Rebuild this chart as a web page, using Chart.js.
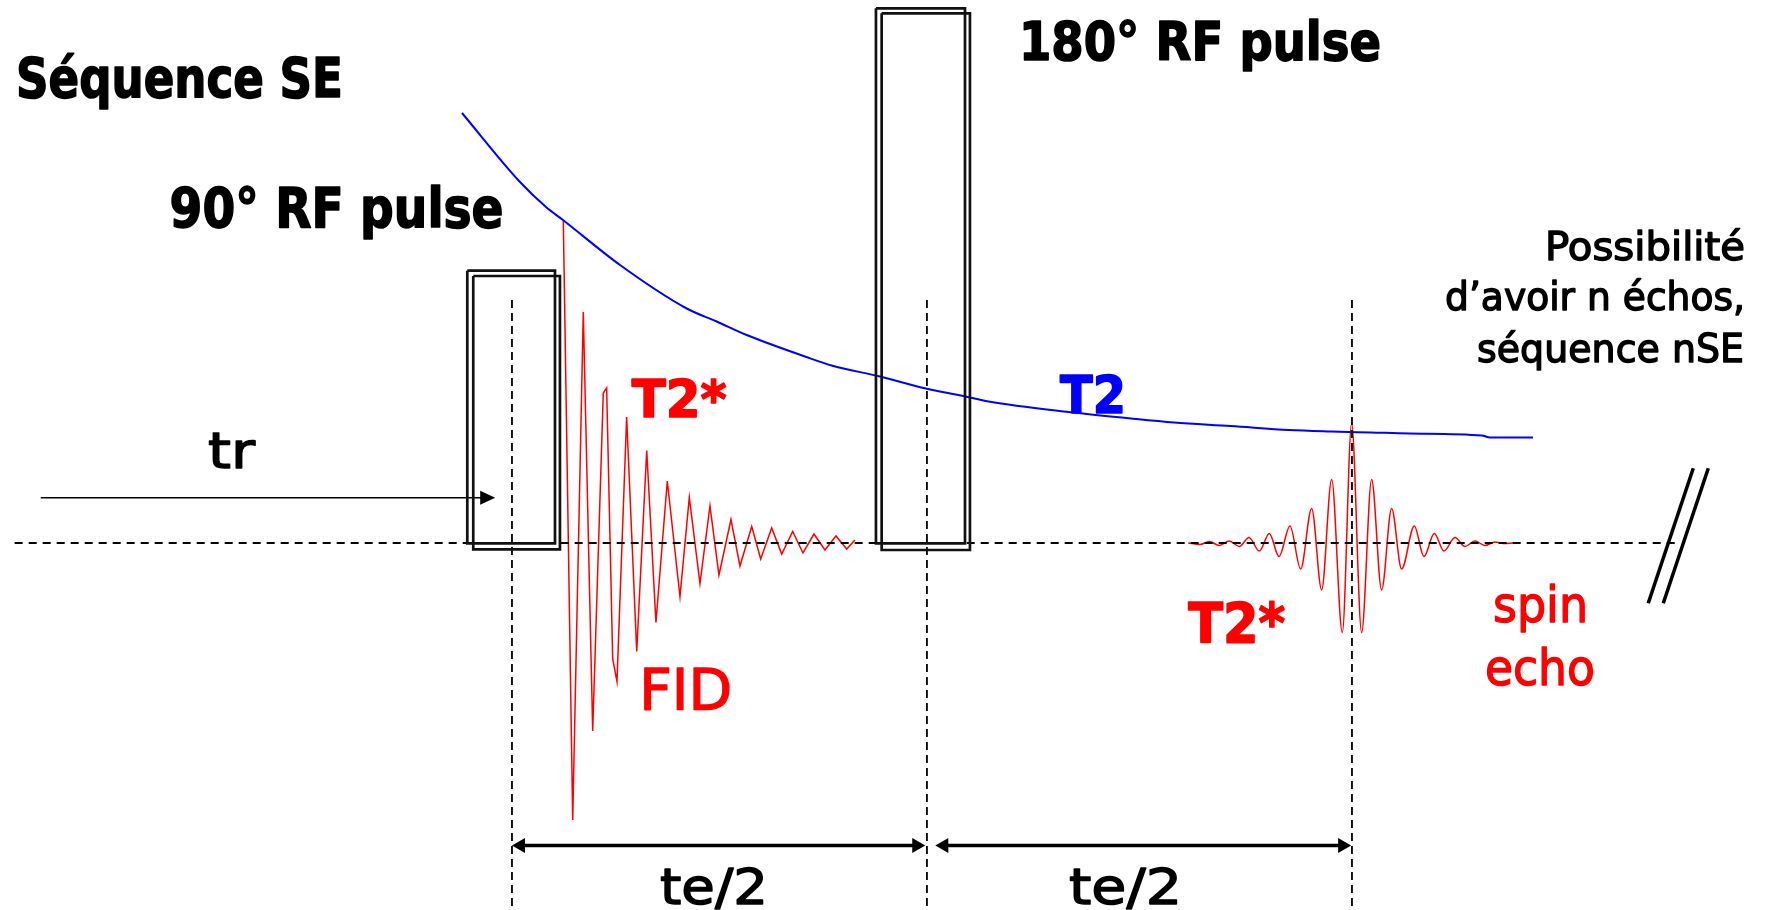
<!DOCTYPE html>
<html lang="fr">
<head>
<meta charset="utf-8">
<title>Séquence SE</title>
<script src="https://cdn.jsdelivr.net/npm/chart.js@4.4.0/dist/chart.umd.min.js"></script>
<style>
    html, body { margin: 0; padding: 0; background: #fff; }
    #seqChart { display: block; }
</style>
</head>
<body>
<canvas id="seqChart" width="1765" height="910"></canvas>
<script>
// ========================================
// DATA  (time in ms, 90° pulse centre = 0 ; amplitude in arbitrary units)
// ========================================

// FID after the 90° pulse: peaks and troughs
const fidTime = [6.11, 7.23, 8.49, 9.61, 10.87, 11.27, 11.99, 12.50, 13.65, 14.85,
    16.04, 17.14, 18.49, 20.00, 21.11, 22.38, 23.57, 24.64, 26.07, 27.14,
    28.54, 29.61, 30.92, 32.11, 33.42, 34.64, 35.95, 37.26, 38.57, 39.85, 40.83];
const fidAmp = [64.6, -55.4, 46.2, -37.6, 30.0, 31.0, -23.2, -27.7, 25.2, -21.7,
    18.5, -15.9, 12.4, -10.7, 9.1, -8.1, 7.4, -6.4, 4.7, -4.6,
    3.3, -3.2, 3.0, -2.2, 2.3, -2.0, 1.8, -1.4, 1.4, -1.2, 0.6];

// spin echo centred on te
const echoTime = [80.52, 81.90, 83.02, 84.21, 85.40, 86.59, 87.74, 88.97, 90.16, 91.31,
    92.62, 93.89, 95.20, 96.39, 97.58, 98.85, 99.96, 101.15, 102.34, 103.53,
    104.72, 105.91, 107.42, 108.57, 109.80, 110.95, 112.26, 113.45, 114.64, 115.83,
    117.02, 118.02, 119.21];
const echoAmp = [0, -0.3, 0.3, -0.5, 0.4, -0.7, 1.1, -1.6, 1.9, -2.7,
    3.4, -5.2, 6.9, -9.4, 12.7, -17.9, 23.9, -17.9, 12.7, -9.4,
    6.9, -5.2, 3.4, -2.7, 1.9, -1.6, 1.1, -0.7, 0.4, -0.5,
    0.2, -0.1, 0];

// T2 envelope
const t2Time = [-5.95, 0.90, 4.05, 6.07, 12.86, 20.80, 24.37, 27.94, 34.88, 38.06,
    43.81, 49.29, 53.76, 56.74, 66.90, 73.69, 78.81, 85.60, 92.50, 97.50,
    102.26, 106.90, 115.48, 116.43, 121.55];
const t2Amp = [86.0, 72.3, 67.2, 64.6, 55.6, 46.9, 44.3, 41.6, 37.3, 35.5,
    33.3, 30.9, 29.4, 28.3, 26.1, 24.9, 24.1, 23.4, 22.6, 22.3,
    22.1, 21.9, 21.5, 21.1, 21.1];

// RF pulses (each one drawn as two offset boxes)
const pulse90Start = [-5.32, -4.61];
const pulse90End = [5.12, 5.71];
const pulse90Top = [54.46, 53.4];
const pulse90Bottom = [-0.06, -1.26];
const pulse180Start = [43.33, 44.01];
const pulse180End = [53.93, 54.52];
const pulse180Top = [106.94, 105.94];
const pulse180Bottom = [-0.06, -1.4];

// timing markers: 90° centre, 180° centre, echo (te)
const markerTime = [0, 49.4, 100];
const markerTop = 48.6;
const markerBottom = -75;

// zero line and "//" break
const baselineStart = -59.2;
const baselineEnd = 138.45;
const breakTop = [140.63, 142.42];
const breakBottom = [135.27, 137.06];
const breakHigh = 14.94;
const breakLow = -12.06;

// tr arrow and te/2 spans
const trStart = -56.1;
const trEnd = -2.0;
const trLevel = 9.06;
const teSpanStart = [0, 50.4];
const teSpanEnd = [49.2, 99.9];
const teSpanLevel = -60.5;

// axis window
const timeMin = -60.95;
const timeMax = 149.17;
const ampMin = -73.4;
const ampMax = 108.6;

// ========================================
// TEXT
// ========================================
const FONT = "'DejaVu Sans', 'Noto Sans', sans-serif";
const labels = [
    { text: 'Séquence SE', t: -59.05, a: 89.2, width: 327, size: 55, weight: 'bold', color: '#000' },
    { text: '90° RF pulse', t: -40.76, a: 63.26, width: 334, size: 56, weight: 'bold', color: '#000' },
    { text: '180° RF pulse', t: 60.36, a: 96.6, width: 362, size: 53, weight: 'bold', color: '#000' },
    { text: 'Possibilité', t: 146.79, a: 56.6, width: 200, size: 39, weight: 'normal', color: '#000', align: 'right' },
    { text: 'd’avoir n échos,', t: 146.79, a: 46.6, width: 300, size: 39, weight: 'normal', color: '#000', align: 'right' },
    { text: 'séquence nSE', t: 146.67, a: 36.26, width: 267, size: 39, weight: 'normal', color: '#000', align: 'right' },
    { text: 'T2*', t: 14.25, a: 25.26, width: 95, size: 52, weight: 'bold', color: '#ff0000' },
    { text: 'T2', t: 65.24, a: 26.0, width: 66, size: 52, weight: 'bold', color: '#0000ff' },
    { text: 'tr', t: -36.19, a: 14.94, width: 47, size: 50, weight: 'normal', color: '#000' },
    { text: 'FID', t: 15.15, a: -33.4, width: 93, size: 57, weight: 'normal', color: '#ff0000' },
    { text: 'T2*', t: 80.51, a: -19.74, width: 97, size: 55, weight: 'bold', color: '#ff0000' },
    { text: 'spin', t: 116.79, a: -15.74, width: 95, size: 50, weight: 'normal', color: '#ff0000' },
    { text: 'echo', t: 115.83, a: -28.4, width: 110, size: 50, weight: 'normal', color: '#ff0000' },
    { text: 'te/2', t: 17.62, a: -72.2, width: 108, size: 50, weight: 'normal', color: '#000' },
    { text: 'te/2', t: 66.31, a: -72.2, width: 113, size: 50, weight: 'normal', color: '#000' }
];

// ========================================
// HELPERS
// ========================================
function zip(ts, as) {
    return ts.map((t, i) => ({ x: t, y: as[i] }));
}

function boxPath(t0, t1, a0, a1) {
    return [
        { x: t0, y: a0 }, { x: t1, y: a0 }, { x: t1, y: a1 },
        { x: t0, y: a1 }, { x: t0, y: a0 }
    ];
}

function segment(t0, a0, t1, a1) {
    return [{ x: t0, y: a0 }, { x: t1, y: a1 }];
}

function lineSet(data, color, width, extra) {
    return Object.assign({
        data: data,
        showLine: true,
        borderColor: color,
        borderWidth: width,
        pointRadius: 0,
        pointHoverRadius: 0,
        tension: 0,
        fill: false
    }, extra || {});
}

function arrowHead(ctx, tipX, tipY, dir, len, half) {
    ctx.beginPath();
    ctx.moveTo(tipX, tipY);
    ctx.lineTo(tipX - dir * len, tipY - half);
    ctx.lineTo(tipX - dir * len, tipY + half);
    ctx.closePath();
    ctx.fill();
}

// ========================================
// DATASETS
// ========================================
const datasets = [];

// RF pulse boxes
[[pulse90Start, pulse90End, pulse90Top, pulse90Bottom],
 [pulse180Start, pulse180End, pulse180Top, pulse180Bottom]].forEach(([s, e, top, bot]) => {
    s.forEach((_, i) => {
        datasets.push(lineSet(boxPath(s[i], e[i], top[i], bot[i]), '#111', 2.7,
            { borderJoinStyle: 'miter' }));
    });
});

// zero line
datasets.push(lineSet(segment(baselineStart, 0, baselineEnd, 0), '#000', 2,
    { borderDash: [8, 6] }));

// vertical timing markers
markerTime.forEach(t => {
    datasets.push(lineSet(segment(t, markerTop, t, markerBottom), '#000', 1.8,
        { borderDash: [8, 5] }));
});

// T2 envelope
datasets.push(lineSet(zip(t2Time, t2Amp), '#0000ff', 2, { cubicInterpolationMode: 'monotone' }));

// FID
datasets.push(lineSet(zip(fidTime, fidAmp), '#ff0000', 1.5));

// spin echo
datasets.push(lineSet(zip(echoTime, echoAmp), '#ff0000', 1.5, { cubicInterpolationMode: 'monotone' }));

// tr arrow shaft
datasets.push(lineSet(segment(trStart, trLevel, trEnd - 1.5, trLevel), '#000', 1.6));

// te/2 arrow shafts
teSpanStart.forEach((t0, i) => {
    datasets.push(lineSet(segment(t0 + 1, teSpanLevel, teSpanEnd[i] - 1, teSpanLevel), '#000', 3.3));
});

// "//" break marks
breakTop.forEach((t, i) => {
    datasets.push(lineSet(segment(t, breakHigh, breakBottom[i], breakLow), '#000', 3.5));
});

// ========================================
// OVERLAY: arrow heads and text
// ========================================
const overlayPlugin = {
    id: 'overlay',
    beforeDraw(chart) {
        const ctx = chart.ctx;
        ctx.save();
        ctx.fillStyle = '#fff';
        ctx.fillRect(0, 0, chart.width, chart.height);
        ctx.restore();
    },
    afterDatasetsDraw(chart) {
        const ctx = chart.ctx;
        const xs = chart.scales.x;
        const ys = chart.scales.y;

        ctx.save();
        ctx.fillStyle = '#000';
        arrowHead(ctx, xs.getPixelForValue(trEnd), ys.getPixelForValue(trLevel), 1, 15, 7);
        const yy = ys.getPixelForValue(teSpanLevel);
        teSpanStart.forEach((t0, i) => {
            arrowHead(ctx, xs.getPixelForValue(t0), yy, -1, 13, 7.5);
            arrowHead(ctx, xs.getPixelForValue(teSpanEnd[i]), yy, 1, 13, 7.5);
        });
        ctx.restore();

        labels.forEach(l => {
            ctx.save();
            ctx.font = l.weight + ' ' + l.size + 'px ' + FONT;
            ctx.fillStyle = l.color;
            ctx.strokeStyle = l.color;
            ctx.lineJoin = 'round';
            ctx.lineWidth = l.weight === 'bold' ? 1.6 : 1.4;
            ctx.textBaseline = 'alphabetic';
            ctx.textAlign = 'left';
            const w = ctx.measureText(l.text).width;
            const px = xs.getPixelForValue(l.t);
            const py = ys.getPixelForValue(l.a);
            const left = l.align === 'right' ? px - l.width : px;
            ctx.translate(left, py);
            ctx.scale(l.width / w, 1);
            ctx.fillText(l.text, 0, 0);
            ctx.strokeText(l.text, 0, 0);
            ctx.restore();
        });
    }
};

// ========================================
// CHART
// ========================================
new Chart(document.getElementById('seqChart'), {
    type: 'scatter',
    data: { datasets: datasets },
    options: {
        responsive: false,
        animation: false,
        devicePixelRatio: 1,
        layout: { padding: 0 },
        plugins: {
            legend: { display: false },
            tooltip: { enabled: false }
        },
        scales: {
            x: { type: 'linear', min: timeMin, max: timeMax, display: false },
            y: { type: 'linear', min: ampMin, max: ampMax, display: false }
        }
    },
    plugins: [overlayPlugin]
});
</script>
</body>
</html>
